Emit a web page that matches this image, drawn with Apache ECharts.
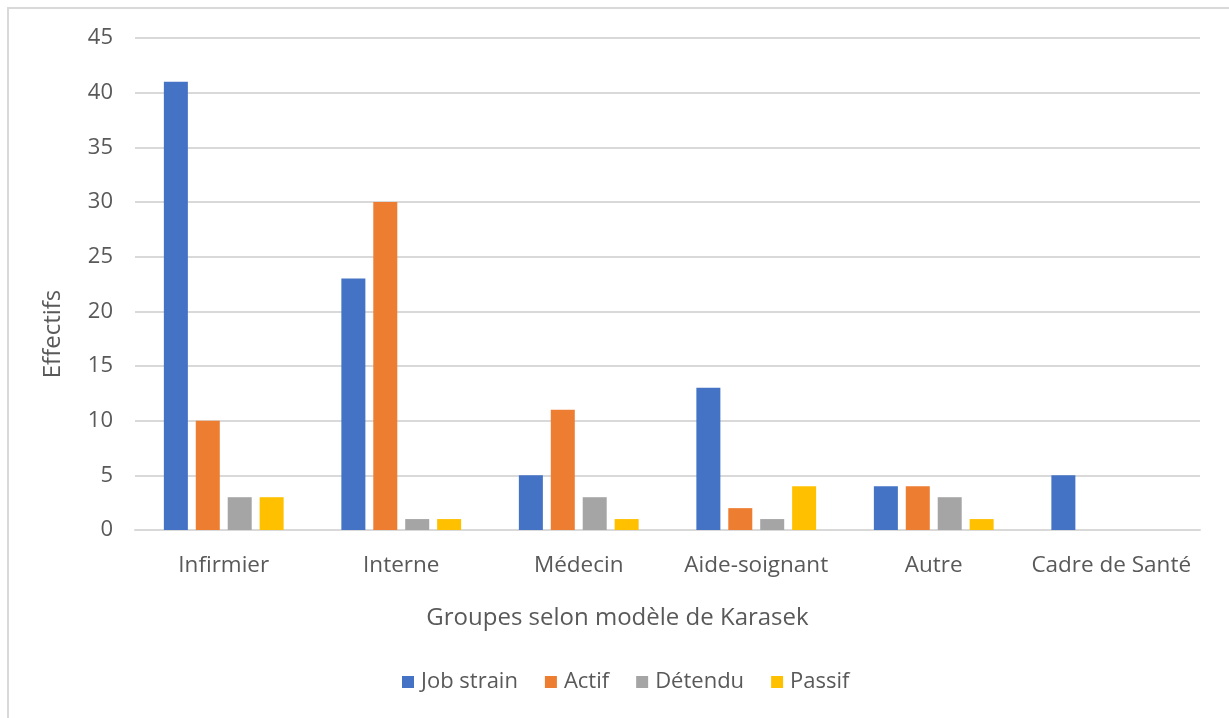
<!DOCTYPE html>
<html>
<head>
<meta charset="utf-8">
<script src="https://cdn.jsdelivr.net/npm/echarts@6/dist/echarts.min.js"></script>
<style>
  html, body { margin: 0; padding: 0; background: #fff; }
  #frame { position: absolute; left: 7px; top: 7px; width: 1240px; height: 730px;
           border-top: 2px solid #d9d9d9; border-left: 2px solid #d9d9d9; }
  #chart { position: absolute; left: 0; top: 0; width: 1229px; height: 718px; }
</style>
</head>
<body>
<div id="frame"></div>
<div id="chart"></div>
<script>
const categories = ['Infirmier', 'Interne', 'Médecin', 'Aide-soignant', 'Autre', 'Cadre de Santé'];
const jobStrain = [41, 23, 5, 13, 4, 5];
const actif     = [10, 30, 11, 2, 4, 0];
const detendu   = [3, 1, 3, 1, 3, 0];
const passif    = [3, 1, 1, 4, 1, 0];
const yTicks = { min: 0, max: 45, interval: 5 };

const FONT = '"Open Sans", "Noto Sans", sans-serif';
const TXT = '#595959';

const chart = echarts.init(document.getElementById('chart'), null, { renderer: 'canvas' });

function bar(name, data, color) {
  return {
    name, type: 'bar', data,
    barWidth: 24, barGap: '33%',
    itemStyle: { color }
  };
}

chart.setOption({
  animation: false,
  backgroundColor: 'transparent',
  textStyle: { fontFamily: FONT },
  grid: { left: 135, right: 29, top: 38, bottom: 188 },
  legend: {
    bottom: 20, left: 397,
    icon: 'rect', itemWidth: 12, itemHeight: 12, itemGap: 27,
    textStyle: { color: TXT, fontSize: 22, fontFamily: FONT, padding: [0, 0, 0, 2] }
  },
  xAxis: {
    type: 'category', data: categories,
    name: 'Groupes selon modèle de Karasek',
    nameLocation: 'middle', nameGap: 76,
    nameTextStyle: { color: TXT, fontSize: 24, fontFamily: FONT, padding: [0, 100, 0, 0] },
    axisLine: { lineStyle: { color: '#d9d9d9', width: 2 } },
    axisTick: { show: false },
    axisLabel: { color: TXT, fontSize: 22.5, margin: 24, interval: 0, fontFamily: FONT }
  },
  yAxis: {
    type: 'value', min: yTicks.min, max: yTicks.max, interval: yTicks.interval,
    name: 'Effectifs', nameLocation: 'middle', nameGap: 70, nameRotate: 90,
    nameTextStyle: { color: TXT, fontSize: 24, fontFamily: FONT, padding: [0, 100, 0, 0] },
    axisLine: { show: false }, axisTick: { show: false },
    axisLabel: { color: TXT, fontSize: 22, margin: 22, fontFamily: FONT },
    splitLine: { lineStyle: { color: '#d9d9d9', width: 2 } }
  },
  series: [
    bar('Job strain', jobStrain, '#4472C4'),
    bar('Actif', actif, '#ED7D31'),
    bar('Détendu', detendu, '#A5A5A5'),
    bar('Passif', passif, '#FFC000')
  ]
});
</script>
</body>
</html>
